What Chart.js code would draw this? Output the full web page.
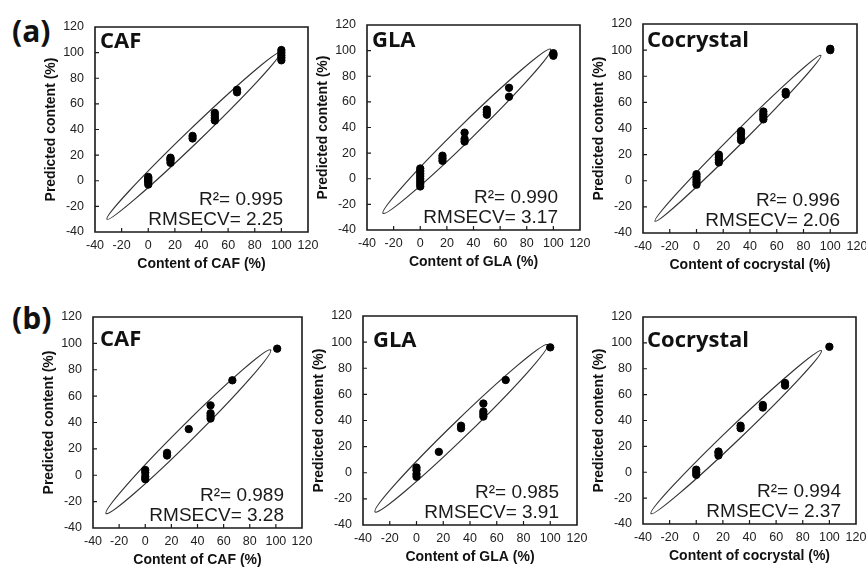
<!DOCTYPE html>
<html>
<head>
<meta charset="utf-8">
<script src="https://cdn.jsdelivr.net/npm/chart.js@4.4.1/dist/chart.umd.min.js"></script>
<style>
  html, body { margin: 0; padding: 0; background: #fff; overflow: hidden; }
  #wrap { position: relative; width: 866px; height: 567px; }
  #wrap canvas { position: absolute; }
  .tag { position: absolute; font: bold 30px 'Open Sans', sans-serif; line-height: 30px; color: #111; }
</style>
</head>
<body>
<div id="wrap">
  <div class="tag" style="left:12px;top:16px">(a)</div>
  <div class="tag" style="left:12px;top:303px">(b)</div>
</div>
<script>
// axis ticks (both axes share them)
const tickValues = [-40, -20, 0, 20, 40, 60, 80, 100, 120];

// (a) row
const cafAX = [0, 0, 0, 0, 0, 0, 16.7, 16.7, 16.7, 16.7, 33.3, 33.3, 50, 50, 50, 50, 66.7, 66.7, 100, 100, 100, 100, 100];
const cafAY = [-3, -1, 0, 1, 2, 3, 14, 16, 17, 18, 33, 35, 47, 49, 51, 53, 69, 71, 94, 96, 98, 100, 102];
const glaAX = [0, 0, 0, 0, 0, 0, 0, 0, 16.7, 16.7, 16.7, 33.3, 33.3, 33.3, 50, 50, 50, 66.7, 66.7, 100, 100, 100];
const glaAY = [-6, -4, -2, 0, 2, 4, 6, 8, 14, 16, 18, 29, 31, 36, 50, 52, 54, 64, 71, 96, 97, 98];
const cocAX = [0, 0, 0, 0, 0, 16.7, 16.7, 16.7, 16.7, 33.3, 33.3, 33.3, 33.3, 50, 50, 50, 50, 66.7, 66.7, 100, 100];
const cocAY = [-3, -1, 1, 3, 5, 14, 16, 18, 20, 31, 33, 36, 38, 47, 49, 51, 53, 66, 68, 100, 101];

// (b) row
const cafBX = [0, 0, 0, 0, 16.7, 16.7, 33.3, 50, 50, 50, 50, 66.7, 101];
const cafBY = [-3, -1, 2, 4, 15, 17, 35, 43, 45, 47, 53, 72, 96];
const glaBX = [0, 0, 0, 0, 16.7, 33.3, 33.3, 50, 50, 50, 50, 66.7, 100];
const glaBY = [-3, -1, 2, 4, 16, 34, 36, 43, 45, 47, 53, 71, 96];
const cocBX = [0, 0, 0, 16.7, 16.7, 16.7, 33.3, 33.3, 50, 50, 66.7, 66.7, 100];
const cocBY = [-2, 0, 2, 13, 15, 16, 34, 36, 50, 52, 67, 69, 97];

// confidence ellipse tips (data units)
const ellipseTips = [
  [[-31, -30], [99, 100]],
  [[-28, -27], [98, 101]],
  [[-31, -31], [93, 96]],
  [[-30, -29], [96, 95]],
  [[-31, -30], [98, 98]],
  [[-34, -32], [94, 94]]
];

const names = ["CAF", "GLA", "Cocrystal", "CAF", "GLA", "Cocrystal"];
const xTitles = ["Content of CAF (%)", "Content of GLA (%)", "Content of cocrystal (%)",
                 "Content of CAF (%)", "Content of GLA (%)", "Content of cocrystal (%)"];
const r2Labels = ["0.995", "0.990", "0.996", "0.989", "0.985", "0.994"];
const rmseLabels = ["2.25", "3.17", "2.06", "3.28", "3.91", "2.37"];

const xs = [cafAX, glaAX, cocAX, cafBX, glaBX, cocBX];
const ys = [cafAY, glaAY, cocAY, cafBY, glaBY, cocBY];

// plot boxes on the page: left, top, right, bottom, plus tweaks
const boxes = [
  { l: 95, t: 27, r: 308, b: 231.5, nameDx: 5, nameDy: 21, textDx: 25, ell: 7 },
  { l: 367, t: 25, r: 580, b: 230, nameDx: 5, nameDy: 22, textDx: 22, ell: 8 },
  { l: 643, t: 24, r: 857, b: 233, nameDx: 4, nameDy: 23, textDx: 17, ell: 6 },
  { l: 93, t: 316.5, r: 301.5, b: 527.5, nameDx: 7, nameDy: 29, textDx: 18, ell: 8 },
  { l: 363, t: 315.5, r: 576.5, b: 524, nameDx: 10, nameDy: 31, textDx: 18, ell: 8.5 },
  { l: 642.5, t: 316.5, r: 855.5, b: 523.5, nameDx: 4, nameDy: 30, textDx: 15, ell: 7 }
];

const Y_AXIS_W = 52, X_AXIS_H = 41, PAD_T = 8, PAD_R = 14;
const FONT = "'Liberation Sans', Arial, sans-serif";

const panelDecor = {
  id: "panelDecor",
  beforeDatasetsDraw(chart, args, opts) {
    const { ctx, scales: { x, y } } = chart;
    const [p1, p2] = opts.tips;
    const x1 = x.getPixelForValue(p1[0]), y1 = y.getPixelForValue(p1[1]);
    const x2 = x.getPixelForValue(p2[0]), y2 = y.getPixelForValue(p2[1]);
    ctx.save();
    ctx.beginPath();
    ctx.ellipse((x1 + x2) / 2, (y1 + y2) / 2, Math.hypot(x2 - x1, y2 - y1) / 2, opts.ell,
      Math.atan2(y2 - y1, x2 - x1), 0, Math.PI * 2);
    ctx.strokeStyle = "#333";
    ctx.lineWidth = 1.2;
    ctx.stroke();
    ctx.restore();
  },
  afterDatasetsDraw(chart, args, opts) {
    const { ctx, chartArea, scales: { x, y } } = chart;
    const left = chartArea.left, top = chartArea.top;
    const right = chartArea.right, bottom = chartArea.bottom;
    ctx.save();
    ctx.setLineDash([]);
    ctx.globalAlpha = 1;
    ctx.globalCompositeOperation = "source-over";
    ctx.strokeStyle = "#1a1a1a";
    ctx.lineWidth = 1.6;
    ctx.beginPath();
    ctx.rect(left, top, right - left, bottom - top);
    ctx.stroke();

    ctx.lineWidth = 1.2;
    ctx.beginPath();
    tickValues.slice(1, -1).forEach((v) => {
      const px = x.getPixelForValue(v);
      ctx.moveTo(px, bottom);
      ctx.lineTo(px, bottom - 4);
      const py = y.getPixelForValue(v);
      ctx.moveTo(left, py);
      ctx.lineTo(left + 4, py);
    });
    ctx.stroke();

    ctx.fillStyle = "#111";
    ctx.textBaseline = "alphabetic";
    ctx.textAlign = "left";
    ctx.font = "bold 22px 'Open Sans', sans-serif";
    ctx.fillText(opts.name, left + opts.nameDx, top + opts.nameDy);

    ctx.textAlign = "right";
    ctx.font = "19px " + FONT;
    ctx.fillStyle = "#1a1a1a";
    ctx.fillText("R\u00B2= " + opts.r2, right - opts.textDx, bottom - 27);
    ctx.fillText("RMSECV= " + opts.rmse, right - opts.textDx, bottom - 7.5);
    ctx.restore();
  }
};

const wrap = document.getElementById("wrap");

boxes.forEach((box, i) => {
  const canvas = document.createElement("canvas");
  const w = Math.round(box.r - box.l + Y_AXIS_W + PAD_R);
  const h = Math.round(box.b - box.t + PAD_T + X_AXIS_H);
  canvas.width = w;
  canvas.height = h;
  canvas.style.left = (box.l - Y_AXIS_W) + "px";
  canvas.style.top = (box.t - PAD_T) + "px";
  wrap.appendChild(canvas);

  const tickFont = { family: FONT, size: 12.5 };
  const titleFont = { family: FONT, size: 14, weight: "bold" };

  new Chart(canvas, {
    type: "scatter",
    data: {
      datasets: [{
        data: xs[i].map((v, k) => ({ x: v, y: ys[i][k] })),
        backgroundColor: "#000",
        borderColor: "#000",
        pointRadius: 3.7,
        pointHoverRadius: 3.7
      }]
    },
    options: {
      responsive: false,
      animation: false,
      devicePixelRatio: 1,
      layout: { padding: { top: PAD_T, right: PAD_R, left: 0, bottom: 0 } },
      plugins: {
        legend: { display: false },
        tooltip: { enabled: false },
        panelDecor: {
          tips: ellipseTips[i], ell: box.ell, name: names[i],
          nameDx: box.nameDx, nameDy: box.nameDy, textDx: box.textDx,
          r2: r2Labels[i], rmse: rmseLabels[i]
        }
      },
      scales: {
        x: {
          type: "linear", min: -40, max: 120,
          afterBuildTicks: (s) => { s.ticks = tickValues.map((v) => ({ value: v })); },
          ticks: { color: "#222", font: tickFont, padding: 6, maxRotation: 0, autoSkip: false },
          grid: { display: false, drawTicks: false },
          border: { display: false },
          title: { display: true, text: xTitles[i], color: "#111", font: titleFont, padding: 0 },
          afterFit: (s) => { s.height = X_AXIS_H; s.paddingLeft = 0; s.paddingRight = 0; }
        },
        y: {
          type: "linear", min: -40, max: 120,
          afterBuildTicks: (s) => { s.ticks = tickValues.map((v) => ({ value: v })); },
          ticks: { color: "#222", font: tickFont, padding: 11, autoSkip: false },
          grid: { display: false, drawTicks: false },
          border: { display: false },
          title: { display: true, text: "Predicted content (%)", color: "#111", font: titleFont, padding: 0 },
          afterFit: (s) => { s.width = Y_AXIS_W; s.paddingTop = 0; s.paddingBottom = 0; }
        }
      }
    },
    plugins: [panelDecor]
  });
});
</script>
</body>
</html>
